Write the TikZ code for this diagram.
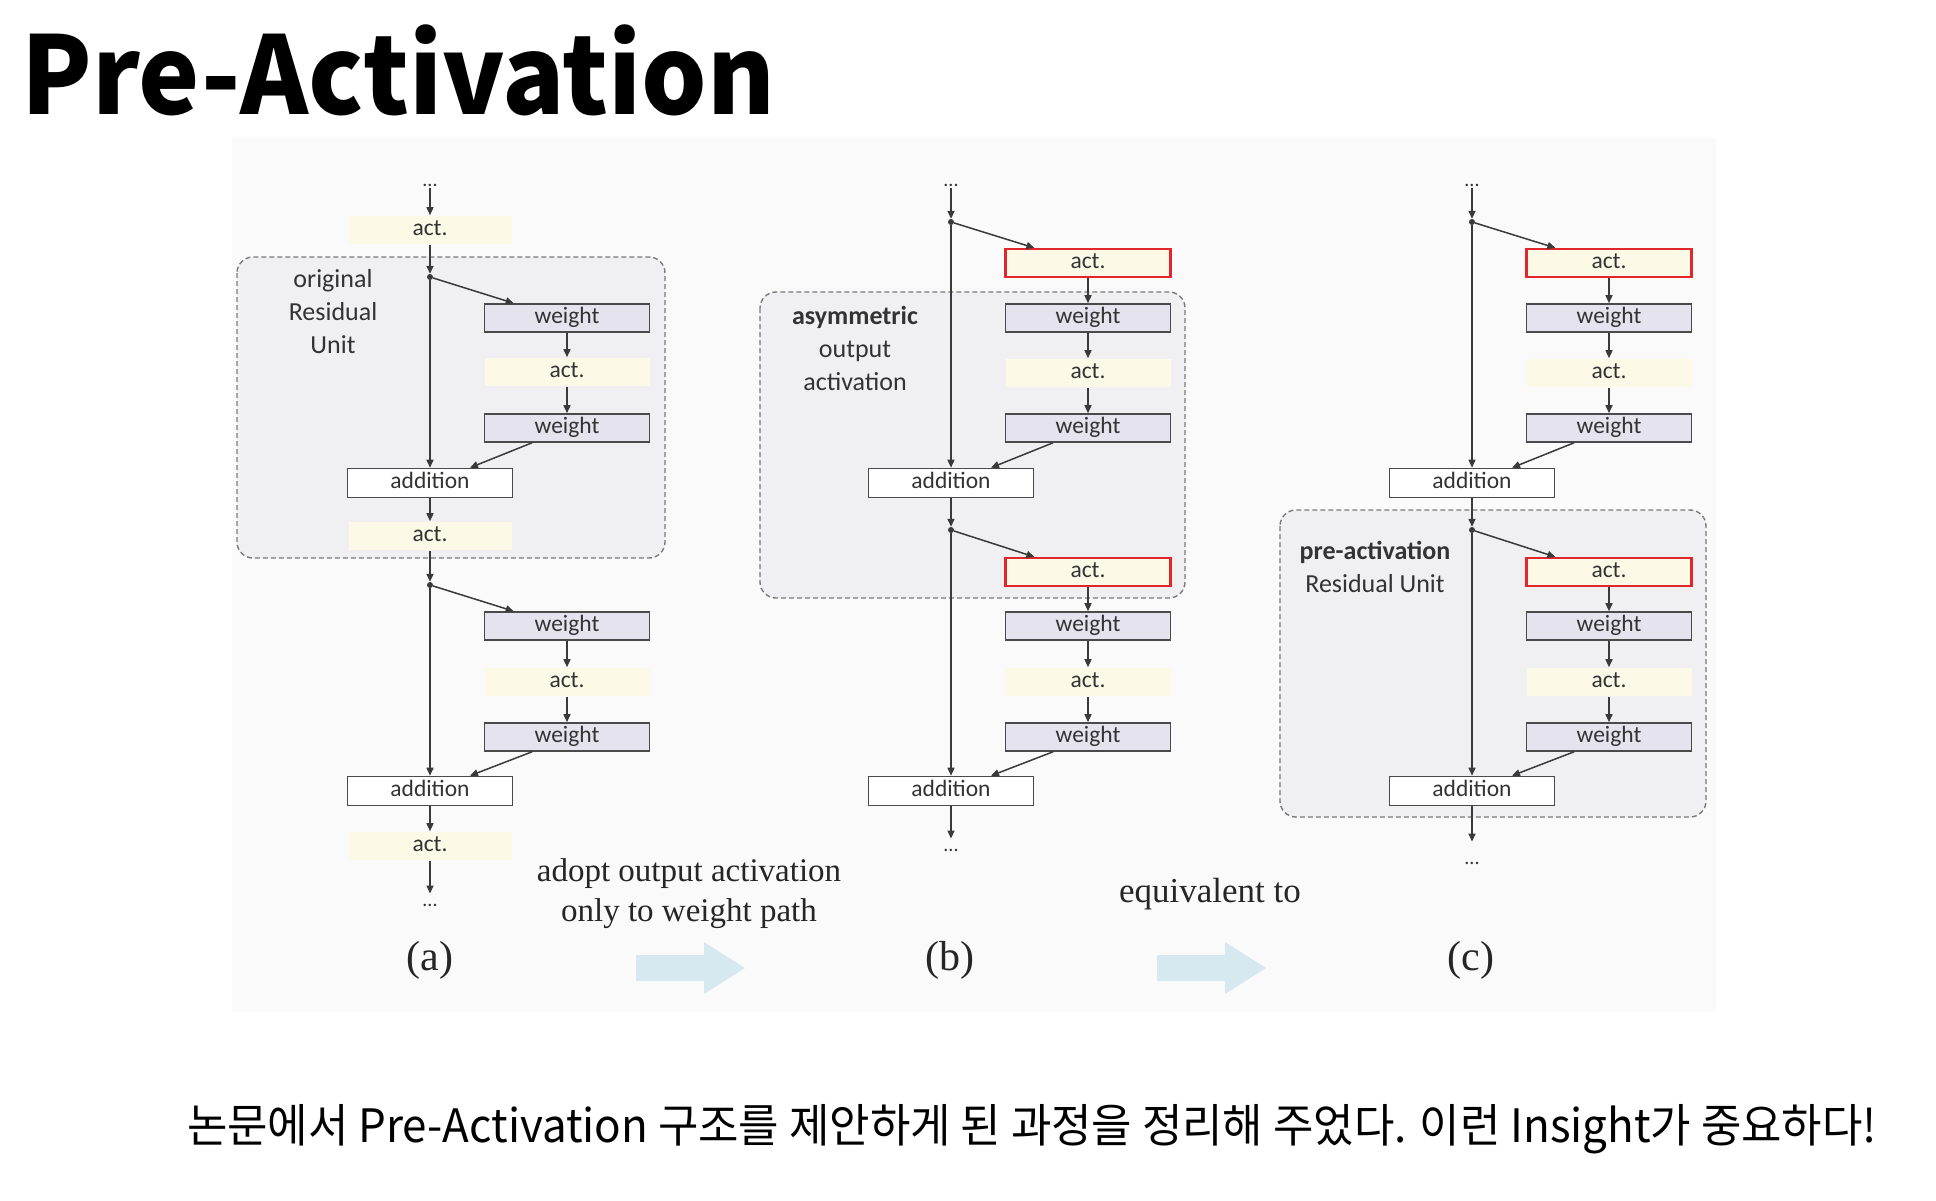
\documentclass[tikz,border=0pt]{standalone}
\usepackage{fontspec}
\setmainfont{Carlito}
\newfontfamily\cjk{Noto Sans CJK KR}[FakeStretch=0.955]
\newfontfamily\serifface{Liberation Serif}
\usetikzlibrary{arrows.meta}

\definecolor{figbg}{HTML}{FAFAFB}
\definecolor{unitfill}{HTML}{F0F0F3}
\definecolor{dashcol}{HTML}{7A7A7A}
\definecolor{boxline}{HTML}{4A4A4A}
\definecolor{arrowcol}{HTML}{3A3A3A}
\definecolor{weightfill}{HTML}{E5E3EE}
\definecolor{actfill}{HTML}{FCFAE6}
\definecolor{redline}{HTML}{E3262C}
\definecolor{txt}{HTML}{333333}
\definecolor{bluearrow}{HTML}{D6E9F1}

\begin{document}
\begin{tikzpicture}[x=1pt,y=-1pt,
  box/.style={draw=boxline, line width=1.6pt, minimum width=165pt, minimum height=28pt,
    inner sep=0pt, text height=15pt, text depth=5pt, text=txt,
    font=\fontsize{23.5}{26}\selectfont},
  weightbox/.style={box, fill=weightfill},
  addbox/.style={box, fill=white, minimum height=29pt},
  actbox/.style={box, draw=none, fill=actfill},
  redact/.style={box, draw=redline, line width=2.2pt, fill=actfill},
  flow/.style={draw=arrowcol, line width=1.5pt, -{Triangle[length=8pt,width=7pt]}},
  junction/.style={circle, fill=arrowcol, inner sep=0pt, minimum size=6pt},
  unit/.style={draw=dashcol, dash pattern=on 5pt off 3pt, line width=1.4pt, fill=unitfill, rounded corners=16pt},
  unitlabel/.style={font=\fontsize{26}{33}\selectfont, text=txt, align=center, inner sep=0pt},
  dots/.style={anchor=base, inner sep=2pt, text=txt, font=\fontsize{20}{22}\selectfont},
  caption/.style={font=\serifface\fontsize{33}{40}\selectfont, text=black!85, align=center},
  sublabel/.style={font=\serifface\fontsize{42}{44}\selectfont, text=black!85}
]
\useasboundingbox (0,0) rectangle (1936,1200);
\fill[white] (0,0) rectangle (1936,1200);
\fill[figbg] (232,138) rectangle (1716,1012);

% heading and closing remark
\node[anchor=base west, inner sep=0pt, font=\cjk\bfseries\fontsize{108}{116}\selectfont] (title) at (21,114) {Pre-Activation};
\node[anchor=base, inner sep=0pt, font=\cjk\fontsize{46}{52}\selectfont] (remark) at (1032,1142)
  {논문에서 Pre-Activation 구조를 제안하게 된 과정을 정리해 주었다. 이런 Insight가 중요하다!};

% dashed unit frames
\draw[unit] (237,257) rectangle (665,558);
\draw[unit] (760,292) rectangle (1185,598);
\draw[unit] (1280,510) rectangle (1706,817);

\node[unitlabel] (a-lab) at (333,312) {original\\Residual\\Unit};
\node[unitlabel] (b-lab) at (855,348) {\textbf{asymmetric}\\output\\activation};
\node[unitlabel] (c-lab) at (1375,567) {\textbf{pre-activation}\\Residual Unit};

% ---------------- (a) original ----------------
\node[dots] (a-dots0) at (430,186) {...};
\node[actbox, minimum width=163pt] (a-act0) at (430,230) {act.};
\node[junction] (a-j1) at (430,277) {};
\node[weightbox] (a-w1) at (567,318) {weight};
\node[actbox] (a-act1) at (567,372) {act.};
\node[weightbox] (a-w2) at (567,428) {weight};
\node[addbox] (a-add1) at (430,483) {addition};
\node[actbox, minimum width=163pt] (a-act2) at (430,536) {act.};
\node[junction] (a-j2) at (430,585) {};
\node[weightbox] (a-w3) at (567,626) {weight};
\node[actbox] (a-act3) at (567,682) {act.};
\node[weightbox] (a-w4) at (567,737) {weight};
\node[addbox] (a-add2) at (430,791) {addition};
\node[actbox, minimum width=163pt] (a-act4) at (430,846) {act.};
\node[dots] (a-dots1) at (430,906) {...};

\draw[flow] (a-dots0) -- (a-act0);
\draw[flow] (a-act0) -- (a-j1);
\draw[flow] (a-j1) -- ([xshift=30pt]a-w1.north west);
\draw[flow] (a-w1) -- (a-act1);
\draw[flow] (a-act1) -- (a-w2);
\draw[flow] (a-j1) -- (a-add1);
\draw[flow] ([xshift=-35pt]a-w2.south) -- ([xshift=40pt]a-add1.north);
\draw[flow] (a-add1) -- (a-act2);
\draw[flow] (a-act2) -- (a-j2);
\draw[flow] (a-j2) -- ([xshift=30pt]a-w3.north west);
\draw[flow] (a-w3) -- (a-act3);
\draw[flow] (a-act3) -- (a-w4);
\draw[flow] (a-j2) -- (a-add2);
\draw[flow] ([xshift=-35pt]a-w4.south) -- ([xshift=40pt]a-add2.north);
\draw[flow] (a-add2) -- (a-act4);
\draw[flow] (a-act4) -- ([yshift=8pt]a-dots1.north);

% ---------------- (b) asymmetric output activation ----------------
\node[dots] (b-dots0) at (951,186) {...};
\node[junction] (b-j1) at (951,222) {};
\node[redact] (b-r1) at (1088,263) {act.};
\node[weightbox] (b-w1) at (1088,318) {weight};
\node[actbox] (b-act1) at (1088,373) {act.};
\node[weightbox] (b-w2) at (1088,428) {weight};
\node[addbox] (b-add1) at (951,483) {addition};
\node[junction] (b-j2) at (951,530) {};
\node[redact] (b-r2) at (1088,572) {act.};
\node[weightbox] (b-w3) at (1088,626) {weight};
\node[actbox] (b-act3) at (1088,682) {act.};
\node[weightbox] (b-w4) at (1088,737) {weight};
\node[addbox] (b-add2) at (951,791) {addition};
\node[dots] (b-dots1) at (951,851) {...};

\draw[flow] (b-dots0) -- (b-j1);
\draw[flow] (b-j1) -- ([xshift=30pt]b-r1.north west);
\draw[flow] (b-r1) -- (b-w1);
\draw[flow] (b-w1) -- (b-act1);
\draw[flow] (b-act1) -- (b-w2);
\draw[flow] (b-j1) -- (b-add1);
\draw[flow] ([xshift=-35pt]b-w2.south) -- ([xshift=40pt]b-add1.north);
\draw[flow] (b-add1) -- (b-j2);
\draw[flow] (b-j2) -- ([xshift=30pt]b-r2.north west);
\draw[flow] (b-r2) -- (b-w3);
\draw[flow] (b-w3) -- (b-act3);
\draw[flow] (b-act3) -- (b-w4);
\draw[flow] (b-j2) -- (b-add2);
\draw[flow] ([xshift=-35pt]b-w4.south) -- ([xshift=40pt]b-add2.north);
\draw[flow] (b-add2) -- ([yshift=8pt]b-dots1.north);

% ---------------- (c) pre-activation ----------------
\node[dots] (c-dots0) at (1472,186) {...};
\node[junction] (c-j1) at (1472,222) {};
\node[redact] (c-r1) at (1609,263) {act.};
\node[weightbox] (c-w1) at (1609,318) {weight};
\node[actbox] (c-act1) at (1609,373) {act.};
\node[weightbox] (c-w2) at (1609,428) {weight};
\node[addbox] (c-add1) at (1472,483) {addition};
\node[junction] (c-j2) at (1472,530) {};
\node[redact] (c-r2) at (1609,572) {act.};
\node[weightbox] (c-w3) at (1609,626) {weight};
\node[actbox] (c-act3) at (1609,682) {act.};
\node[weightbox] (c-w4) at (1609,737) {weight};
\node[addbox] (c-add2) at (1472,791) {addition};
\node[dots] (c-dots1) at (1472,864) {...};

\draw[flow] (c-dots0) -- (c-j1);
\draw[flow] (c-j1) -- ([xshift=30pt]c-r1.north west);
\draw[flow] (c-r1) -- (c-w1);
\draw[flow] (c-w1) -- (c-act1);
\draw[flow] (c-act1) -- (c-w2);
\draw[flow] (c-j1) -- (c-add1);
\draw[flow] ([xshift=-35pt]c-w2.south) -- ([xshift=40pt]c-add1.north);
\draw[flow] (c-add1) -- (c-j2);
\draw[flow] (c-j2) -- ([xshift=30pt]c-r2.north west);
\draw[flow] (c-r2) -- (c-w3);
\draw[flow] (c-w3) -- (c-act3);
\draw[flow] (c-act3) -- (c-w4);
\draw[flow] (c-j2) -- (c-add2);
\draw[flow] ([xshift=-35pt]c-w4.south) -- ([xshift=40pt]c-add2.north);
\draw[flow] (c-add2) -- ([yshift=18pt]c-dots1.north);

% captions and transition arrows
\node[caption] (adopt) at (689,894) {adopt output activation\\only to weight path};
\node[caption, font=\serifface\fontsize{35}{40}\selectfont] (equiv) at (1210,894) {equivalent to};
\node[sublabel] (cap-a) at (430,960) {(a)};
\node[sublabel] (cap-b) at (950,960) {(b)};
\node[sublabel] (cap-c) at (1471,960) {(c)};

\fill[bluearrow] (636,955) -- (704,955) -- (704,942) -- (745,968) -- (704,994) -- (704,981) -- (636,981) -- cycle;
\fill[bluearrow] (1157,955) -- (1225,955) -- (1225,942) -- (1266,968) -- (1225,994) -- (1225,981) -- (1157,981) -- cycle;
\end{tikzpicture}
\end{document}
